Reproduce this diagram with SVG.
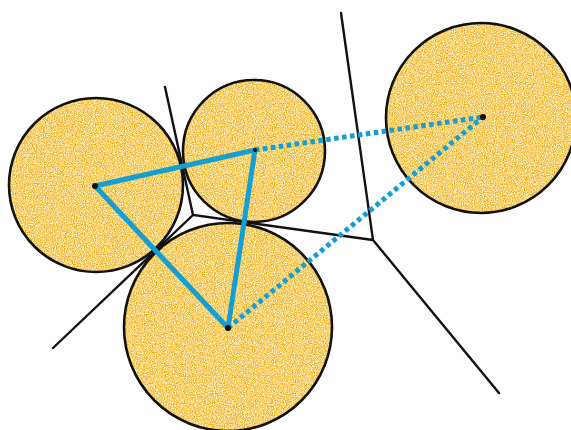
<svg xmlns="http://www.w3.org/2000/svg" width="571" height="430" viewBox="0 0 571 430">
<defs>
<filter id="grain" x="0" y="0" width="100%" height="100%" color-interpolation-filters="sRGB">
<feTurbulence type="fractalNoise" baseFrequency="0.9" numOctaves="2" seed="4" result="n"/>
<feColorMatrix in="n" type="matrix" values="0.15 0 0 0 0.89  0.6 0 0 0 0.52  1.5 0 0 0 -0.3  0 0 0 0 1" result="c"/>
<feComposite in="c" in2="SourceGraphic" operator="in"/>
</filter>
<style>
.fill{fill:#f4c35a;filter:url(#grain)}
.rim{fill:none;stroke:#111;stroke-width:2.6}
.dot{fill:#111}
.edge{fill:none;stroke:#111;stroke-width:2.4;stroke-linecap:round}
.solid{fill:none;stroke:#139fd3;stroke-width:5;stroke-linecap:round;stroke-linejoin:round}
.dash{fill:none;stroke:#139fd3;stroke-width:5;stroke-dasharray:4.5 3.5}
</style>
</defs>
<rect width="571" height="430" fill="#fefefe"/>
<g id="nodeA"><circle class="fill" cx="96" cy="185" r="87"/><circle class="rim" cx="96" cy="185" r="87"/></g>
<g id="nodeB"><circle class="fill" cx="254" cy="151" r="71"/><circle class="rim" cx="254" cy="151" r="71"/></g>
<g id="nodeC"><circle class="fill" cx="228" cy="327" r="104"/><circle class="rim" cx="228" cy="327" r="104"/></g>
<g id="nodeD"><circle class="fill" cx="481" cy="118" r="95"/><circle class="rim" cx="481" cy="118" r="95"/></g>
<g id="connectors">
<path class="edge" d="M165 87 L193 215 L373 240 L341 13 M373 240 L499 393 M193 215 L53 348"/>
<path class="solid" d="M95 186 L255 150 L228 328 Z"/>
<path class="dash" d="M255 150 L483 117 M228 328 L483 117"/>
</g>
<g id="centers">
<circle class="dot" cx="95" cy="186" r="3"/>
<circle class="dot" cx="255" cy="150" r="2"/>
<circle class="dot" cx="228" cy="328" r="3"/>
<circle class="dot" cx="483" cy="117" r="3"/>
</g>
</svg>
